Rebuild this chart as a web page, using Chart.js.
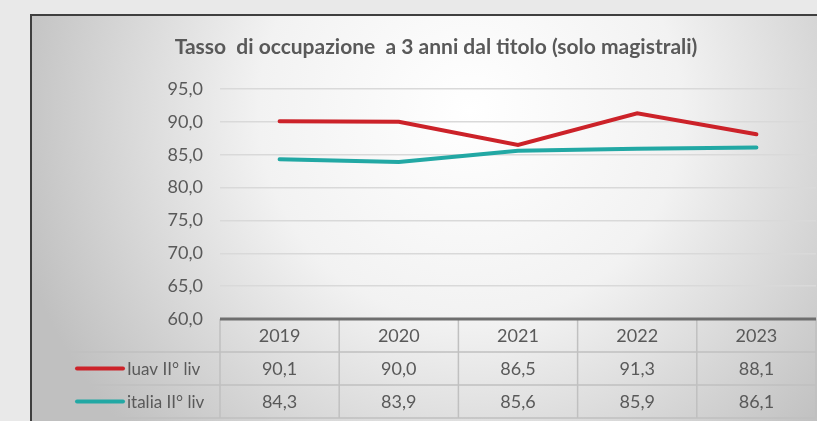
<!DOCTYPE html>
<html lang="it">

<head>
  <meta charset="UTF-8">
  <title>Tasso di occupazione a 3 anni dal titolo</title>
  <style>
    body {
      margin: 0;
      background: #e9e9e9;
    }

    .chart-container {
      position: relative;
      width: 817px;
      height: 421px;
    }
  </style>
  <script src="https://cdn.jsdelivr.net/npm/chart.js"></script>
</head>

<body>
  <div class="chart-container">
    <canvas id="occupazioneChart"></canvas>
  </div>

  <script>
    // Data
    const years = ['2019', '2020', '2021', '2022', '2023'];
    const iuavValues = [90.1, 90.0, 86.5, 91.3, 88.1];
    const italiaValues = [84.3, 83.9, 85.6, 85.9, 86.1];
    const seriesLabels = ['Iuav II° liv', 'italia II° liv'];
    const yTicks = [60, 65, 70, 75, 80, 85, 90, 95];
    const chartTitle = 'Tasso  di occupazione  a 3 anni dal titolo (solo magistrali)';

    const RED = '#cc2229';
    const TEAL = '#22a8a4';
    const TEXT = '#595959';
    const FONT = 'Lato, "Open Sans", sans-serif';

    const fmt = v => v.toFixed(1).replace('.', ',');

    // Frame, gradient and title drawn behind the chart
    const framePlugin = {
      id: 'frame',
      beforeDraw(chart) {
        const ctx = chart.ctx;
        ctx.save();
        ctx.fillStyle = '#e9e9e9';
        ctx.fillRect(0, 0, chart.width, chart.height);

        const grad = ctx.createRadialGradient(470, 110, 0, 470, 110, 470);
        grad.addColorStop(0, '#ffffff');
        grad.addColorStop(0.45, '#f2f2f2');
        grad.addColorStop(1, '#c0c0c0');
        ctx.fillStyle = grad;
        ctx.fillRect(30, 14, 900, 500);

        ctx.strokeStyle = '#3f3f3f';
        ctx.lineWidth = 2;
        ctx.strokeRect(31, 15, 900, 500);

        ctx.fillStyle = TEXT;
        ctx.font = 'bold 21px ' + FONT;
        ctx.textAlign = 'center';
        ctx.textBaseline = 'middle';
        ctx.fillText(chartTitle, 436, 47);
        ctx.restore();
      }
    };

    // Data table under the plot (Excel style)
    const tablePlugin = {
      id: 'dataTable',
      afterDraw(chart) {
        const ctx = chart.ctx;
        const area = chart.chartArea;
        const xScale = chart.scales.x;
        const colW = (area.right - area.left) / years.length;
        const rowH = 33;
        const top = area.bottom;
        const tableLeft = 70;

        ctx.save();
        ctx.strokeStyle = '#c0c0c0';
        ctx.lineWidth = 1.5;

        // horizontal lines
        ctx.beginPath();
        for (let r = 1; r <= 3; r++) {
          ctx.moveTo(tableLeft, top + rowH * r);
          ctx.lineTo(area.right, top + rowH * r);
        }
        // vertical lines
        for (let i = 0; i <= years.length; i++) {
          const x = area.left + i * colW;
          ctx.moveTo(x, top);
          ctx.lineTo(x, top + rowH * 3);
        }
        ctx.moveTo(tableLeft, top + rowH);
        ctx.lineTo(tableLeft, top + rowH * 3);
        ctx.stroke();

        // axis line on top of table
        ctx.strokeStyle = '#6e6e6e';
        ctx.lineWidth = 3;
        ctx.beginPath();
        ctx.moveTo(area.left, top);
        ctx.lineTo(area.right, top);
        ctx.stroke();

        // header and values
        ctx.fillStyle = TEXT;
        ctx.font = '18px ' + FONT;
        ctx.textAlign = 'center';
        ctx.textBaseline = 'middle';
        years.forEach((y, i) => {
          const cx = xScale.getPixelForValue(i);
          ctx.fillText(y, cx, top + rowH / 2 + 1);
          ctx.fillText(fmt(iuavValues[i]), cx, top + rowH * 1.5 + 1);
          ctx.fillText(fmt(italiaValues[i]), cx, top + rowH * 2.5 + 1);
        });

        // legend keys
        const colors = [RED, TEAL];
        ctx.font = '17px ' + FONT;
        ctx.textAlign = 'left';
        seriesLabels.forEach((label, r) => {
          const cy = top + rowH * (1.5 + r);
          ctx.strokeStyle = colors[r];
          ctx.lineWidth = 4;
          ctx.lineCap = 'round';
          ctx.beginPath();
          ctx.moveTo(77, cy);
          ctx.lineTo(123, cy);
          ctx.stroke();
          ctx.fillText(label, 127, cy + 1);
        });
        ctx.restore();
      }
    };

    const ctx = document.getElementById('occupazioneChart').getContext('2d');
    new Chart(ctx, {
      type: 'line',
      data: {
        labels: years,
        datasets: [
          {
            label: seriesLabels[0],
            data: iuavValues,
            borderColor: RED,
            borderWidth: 4,
            borderCapStyle: 'round',
            pointRadius: 0,
            tension: 0
          },
          {
            label: seriesLabels[1],
            data: italiaValues,
            borderColor: TEAL,
            borderWidth: 4,
            borderCapStyle: 'round',
            pointRadius: 0,
            tension: 0
          }
        ]
      },
      options: {
        responsive: true,
        maintainAspectRatio: false,
        animation: false,
        layout: {
          padding: { left: 0, right: 1, top: 89, bottom: 102 }
        },
        plugins: {
          legend: { display: false },
          title: { display: false },
          tooltip: { enabled: false }
        },
        scales: {
          x: {
            display: false,
            offset: true
          },
          y: {
            min: 60,
            max: 95,
            afterFit(scale) {
              scale.width = 220;
            },
            afterBuildTicks(scale) {
              scale.ticks = yTicks.map(v => ({ value: v }));
            },
            border: { display: false },
            grid: {
              drawTicks: false,
              color: c => c.tick.value === 60 ? 'rgba(0,0,0,0)' : '#d9d9d9',
              lineWidth: 1.5
            },
            ticks: {
              padding: 17,
              color: TEXT,
              font: { family: FONT, size: 18 },
              callback: v => fmt(v)
            }
          }
        }
      },
      plugins: [framePlugin, tablePlugin]
    });
  </script>
</body>

</html>
